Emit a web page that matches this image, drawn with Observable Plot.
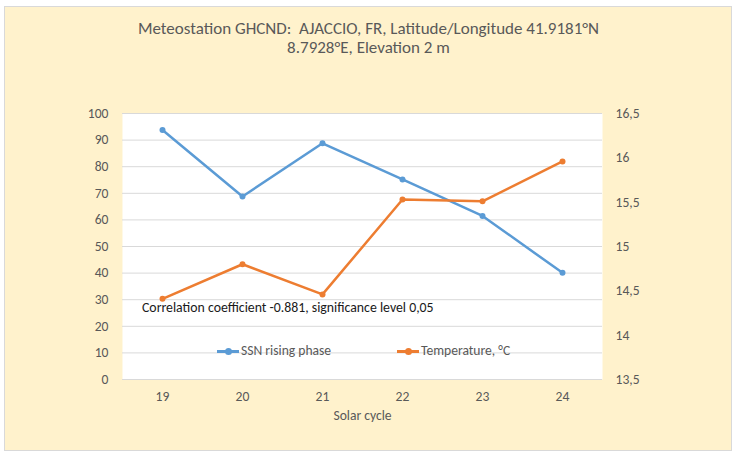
<!DOCTYPE html>
<html><head><meta charset="utf-8">
<script src="https://cdn.jsdelivr.net/npm/d3@7"></script>
<script src="https://cdn.jsdelivr.net/npm/@observablehq/plot@0.6"></script>
<style>
body{margin:0;background:#fff;}
#wrap{position:relative;width:737px;height:462px;overflow:hidden;font-family:Carlito,Calibri,"Open Sans",sans-serif;}
#box{position:absolute;left:4px;top:6px;width:728px;height:445px;background:#FFF2CC;border:1px solid #D9D9D9;box-sizing:border-box;}
#title{position:absolute;left:0;top:19px;width:737px;text-align:center;font-size:17px;color:#595959;line-height:19px;white-space:pre;}
#chart{position:absolute;left:0;top:0;}
.ov{position:absolute;white-space:nowrap;font-size:13.6px;color:#595959;line-height:16px;}
.sw{position:absolute;height:3px;}
.sw i{position:absolute;left:8px;top:-2px;width:7px;height:7px;border-radius:50%;}
</style></head>
<body>
<div id="wrap">
<div id="box"></div>
<div id="title">Meteostation GHCND:  AJACCIO, FR, Latitude/Longitude 41.9181°N
8.7928°E, Elevation 2 m</div>
<div id="chart"></div>
<div class="ov" id="corr" style="left:142px;top:300px;color:#1a1a1a;font-size:13.8px;">Correlation coefficient -0.881, significance level 0,05</div>
<div class="sw" style="left:217px;top:350px;width:22px;background:#5B9BD5"><i style="background:#5B9BD5"></i></div>
<div class="ov" id="lg1" style="left:241px;top:343px;">SSN rising phase</div>
<div class="sw" style="left:397px;top:350px;width:22px;background:#ED7D31"><i style="background:#ED7D31"></i></div>
<div class="ov" id="lg2" style="left:421px;top:343px;">Temperature, °C</div>
<div class="ov" style="left:0;top:408px;width:725px;text-align:center;">Solar cycle</div>
</div>
<script>
const cycles = [19, 20, 21, 22, 23, 24];
const ssn = [93.8, 68.8, 88.8, 75.2, 61.5, 40.1];
const temp = [14.41, 14.80, 14.46, 15.53, 15.51, 15.96];
const leftTicks = [0, 10, 20, 30, 40, 50, 60, 70, 80, 90, 100];
const rightTicks = [13.5, 14, 14.5, 15, 15.5, 16, 16.5];

const tMin = 13.5, tMax = 16.5;
const toY = t => (t - tMin) / (tMax - tMin) * 100;
const fromY = v => String(Math.round((tMin + v / 100 * (tMax - tMin)) * 10) / 10).replace(".", ",");

const ssnData = cycles.map((c, i) => ({c, v: ssn[i]}));
const tempData = cycles.map((c, i) => ({c, v: toY(temp[i])}));

const chart = Plot.plot({
  width: 737, height: 462,
  marginTop: 113, marginBottom: 83, marginLeft: 122, marginRight: 135,
  x: {type: "point", domain: cycles, padding: 0.5},
  y: {domain: [0, 100]},
  style: {background: "transparent", fontFamily: "Carlito,Calibri,'Open Sans',sans-serif", fontSize: "13.6px", color: "#595959"},
  marks: [
    Plot.frame({fill: "white", stroke: "none"}),
    Plot.ruleY(leftTicks, {stroke: "#D9D9D9", strokeWidth: 1}),
    Plot.axisY(leftTicks, {anchor: "left", tickSize: 0, tickPadding: 14, label: null}),
    Plot.axisY(rightTicks.map(toY), {anchor: "right", tickSize: 0, tickPadding: 13, tickFormat: fromY, label: null}),
    Plot.axisX(cycles, {anchor: "bottom", tickSize: 0, tickPadding: 12, label: null}),
    Plot.lineY(ssnData, {x: "c", y: "v", stroke: "#5B9BD5", strokeWidth: 2.5}),
    Plot.dot(ssnData, {x: "c", y: "v", fill: "#5B9BD5", r: 3}),
    Plot.lineY(tempData, {x: "c", y: "v", stroke: "#ED7D31", strokeWidth: 2.5}),
    Plot.dot(tempData, {x: "c", y: "v", fill: "#ED7D31", r: 3})
  ]
});
document.getElementById("chart").appendChild(chart);
</script>
</body></html>
